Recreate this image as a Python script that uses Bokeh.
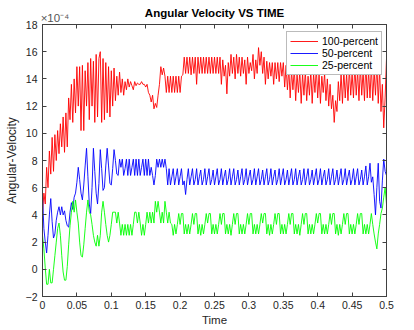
from bokeh.plotting import figure
from bokeh.models import LinearAxis, FixedTicker, Range1d, Legend, LegendItem
from bokeh.embed import file_html
from bokeh.resources import INLINE
import numpy as np

# ---- data (values in units of 1e-4), sampled every 0.002 s from t=0 to t=0.5 ----
red_100 = [
    4.1, 5.6, 4.8, 7.5, 6.0, 8.7, 7.0, 9.7, 7.2, 9.9,
    8.0, 10.2, 8.5, 10.7, 9.0, 11.2, 8.6, 11.5, 9.0, 12.6,
    11.0, 13.6, 10.8, 14.0, 11.5, 14.9, 12.0, 14.9, 10.2, 15.0,
    10.2, 14.6, 12.0, 15.2, 11.0, 15.5, 12.0, 15.3, 10.8, 15.8,
    11.2, 15.5, 16.0, 10.8, 15.5, 11.0, 15.2, 11.5, 14.9, 11.2,
    14.6, 12.0, 14.8, 12.4, 14.2, 12.8, 14.5, 13.0, 14.0, 12.8,
    13.8, 13.2, 14.0, 13.4, 13.8, 13.5, 13.2, 13.8, 13.5, 13.7,
    13.6, 13.6, 13.8, 13.6, 13.6, 13.4, 13.6, 13.0, 12.8, 12.3,
    12.8, 11.8, 12.2, 11.9, 12.8, 13.6, 14.9, 14.3, 14.8, 14.2,
    13.0, 14.2, 13.0, 14.2, 13.0, 14.2, 13.0, 14.2, 13.0, 14.2,
    13.0, 14.2, 14.3, 15.6, 14.4, 15.6, 14.4, 15.6, 14.3, 15.6,
    14.4, 15.6, 13.6, 15.6, 14.4, 15.6, 14.4, 15.6, 14.4, 15.6,
    14.4, 15.6, 14.4, 15.6, 14.4, 15.6, 14.4, 15.6, 14.4, 15.6,
    13.6, 15.4, 14.2, 15.0, 12.9, 15.2, 14.2, 15.8, 14.4, 15.6,
    14.0, 15.8, 14.4, 15.6, 14.2, 15.6, 14.4, 15.4, 13.6, 15.6,
    14.4, 15.2, 14.6, 15.8, 14.0, 15.4, 14.4, 16.3, 15.0, 16.0,
    14.4, 15.6, 13.6, 15.3, 14.0, 15.2, 14.2, 15.2, 13.6, 15.2,
    14.0, 15.2, 13.8, 15.2, 14.2, 15.2, 13.4, 15.0, 13.2, 14.8,
    12.6, 14.6, 13.2, 14.8, 12.4, 14.4, 13.0, 14.6, 12.2, 14.4,
    12.8, 14.6, 12.4, 14.2, 12.8, 14.6, 12.2, 14.4, 13.0, 14.8,
    12.6, 14.4, 12.2, 14.2, 13.0, 14.4, 12.4, 14.0, 12.0, 13.6,
    11.8, 12.8, 10.8, 12.4, 11.6, 13.8, 12.4, 14.4, 12.2, 14.6,
    12.6, 14.4, 12.4, 14.8, 12.8, 14.4, 12.6, 15.0, 12.8, 14.6,
    12.4, 15.0, 12.8, 14.6, 12.4, 15.2, 12.6, 14.6, 12.6, 15.0,
    12.4, 14.6, 12.8, 15.2, 12.2, 14.8, 11.6, 13.6, 10.4, 12.6,
    15.5,
]

blue_50 = [
    5.4, 3.0, 2.0, 1.2, 2.5, 4.0, 5.2, 3.5, 2.3, 2.6,
    3.6, 4.2, 4.6, 4.0, 4.6, 4.0, 4.3, 3.6, 3.2, 3.1,
    4.2, 4.9, 4.4, 5.3, 5.6, 6.4, 7.5, 6.6, 5.6, 5.1,
    6.2, 7.6, 8.9, 6.8, 4.8, 4.1, 6.0, 8.9, 7.2, 5.6,
    4.8, 6.3, 8.8, 7.4, 5.8, 6.0, 7.6, 8.9, 7.6, 6.3,
    6.2, 7.4, 8.8, 8.0, 7.0, 6.9, 8.1, 7.5, 8.1, 6.9,
    7.4, 8.1, 6.9, 8.1, 6.9, 7.5, 8.1, 6.9, 8.1, 6.9,
    8.1, 6.9, 7.5, 8.1, 6.9, 8.1, 6.9, 8.1, 6.9, 7.5,
    6.9, 6.2, 6.9, 8.1, 7.5, 8.1, 7.5, 8.1, 7.5, 8.1,
    7.4, 6.2, 7.4, 6.2, 6.8, 7.4, 6.2, 6.8, 7.4, 6.2,
    6.8, 7.4, 6.2, 6.5, 5.5, 6.6, 7.4, 6.2, 6.8, 7.4,
    6.2, 6.6, 7.4, 6.2, 6.8, 7.3, 6.2, 6.6, 7.4, 6.2,
    6.8, 7.4, 6.2, 6.6, 7.3, 6.2, 6.8, 7.4, 6.2, 6.6,
    7.4, 6.2, 6.8, 7.3, 6.2, 6.6, 7.4, 6.2, 6.8, 7.4,
    6.2, 6.6, 7.3, 6.2, 6.8, 7.4, 6.2, 6.6, 7.4, 6.2,
    6.8, 7.3, 6.2, 6.6, 7.4, 6.2, 6.8, 7.4, 6.2, 6.6,
    7.3, 6.2, 6.8, 7.4, 6.2, 6.6, 7.4, 6.2, 6.8, 7.3,
    6.2, 6.6, 7.4, 6.2, 6.8, 7.4, 6.2, 6.6, 7.3, 6.2,
    6.8, 7.4, 6.2, 6.6, 7.4, 6.2, 6.8, 7.3, 6.2, 6.6,
    7.4, 6.2, 6.8, 7.4, 6.2, 6.6, 7.3, 6.2, 6.8, 7.4,
    6.2, 6.6, 7.4, 6.2, 6.8, 7.3, 6.2, 6.6, 7.4, 6.2,
    6.8, 7.4, 6.2, 6.6, 7.3, 6.2, 6.8, 7.4, 6.2, 6.6,
    7.4, 6.2, 6.8, 7.3, 6.2, 6.6, 7.4, 6.2, 6.8, 7.4,
    6.2, 6.6, 7.3, 6.2, 6.8, 7.6, 6.2, 6.8, 7.8, 6.4,
    6.8, 5.5, 4.0, 6.0, 7.8, 5.0, 4.5, 6.5, 8.1, 7.2,
    6.9,
]

green_25 = [
    2.5, 1.5, 0.1, -1.1, -1.1, 0.0, -1.0, -1.0, 0.0, 1.0,
    2.0, 3.0, 3.4, 2.5, 1.0, -0.2, -0.8, -0.8, 0.2, 1.8,
    3.2, 4.2, 5.0, 4.2, 5.1, 4.2, 3.4, 2.0, 1.0, 0.9,
    1.8, 3.0, 4.2, 5.1, 4.2, 4.0, 3.3, 2.5, 2.0, 1.7,
    2.5, 1.7, 2.5, 4.2, 5.0, 4.2, 3.3, 2.5, 2.0, 2.5,
    3.3, 4.2, 4.2, 4.2, 3.4, 4.2, 3.4, 2.5, 3.3, 2.5,
    3.3, 2.5, 3.3, 2.5, 3.3, 2.5, 3.3, 4.2, 4.2, 3.4,
    4.2, 3.4, 2.5, 3.3, 2.5, 3.3, 4.2, 3.4, 4.2, 3.4,
    4.2, 3.4, 5.0, 4.2, 5.0, 4.2, 3.4, 4.2, 3.4, 5.0,
    4.2, 3.4, 4.2, 3.4, 3.3, 2.5, 3.3, 2.6, 3.3, 4.1,
    3.3, 4.1, 4.1, 2.6, 3.3, 2.6, 3.3, 2.6, 3.3, 4.1,
    3.3, 4.1, 4.1, 2.6, 3.3, 2.5, 3.3, 2.6, 3.3, 4.1,
    3.4, 4.1, 4.1, 2.6, 3.3, 2.6, 3.3, 2.6, 3.3, 4.1,
    3.3, 4.1, 4.1, 2.6, 3.3, 2.6, 3.3, 2.5, 3.3, 4.1,
    3.3, 4.1, 4.1, 2.6, 3.3, 2.6, 3.3, 2.6, 3.3, 4.1,
    3.3, 4.1, 4.1, 2.6, 3.3, 2.6, 3.3, 2.6, 3.3, 4.1,
    3.4, 4.1, 4.1, 2.6, 3.3, 2.5, 3.3, 2.6, 3.3, 4.1,
    3.3, 4.1, 4.1, 2.6, 3.3, 2.6, 3.3, 2.6, 3.3, 4.1,
    3.3, 4.1, 4.1, 2.6, 3.3, 2.6, 3.3, 2.5, 3.3, 4.1,
    3.3, 4.1, 4.1, 2.6, 3.3, 2.6, 3.3, 2.6, 3.3, 4.1,
    3.4, 4.1, 4.1, 2.6, 3.3, 2.6, 3.3, 2.6, 3.3, 4.1,
    3.3, 4.1, 4.1, 2.6, 3.3, 2.5, 3.3, 2.6, 3.3, 4.1,
    3.3, 4.1, 4.1, 2.6, 3.3, 2.6, 3.3, 2.6, 3.3, 4.1,
    3.3, 4.1, 4.1, 2.6, 3.3, 2.6, 3.3, 2.6, 3.3, 4.1,
    3.3, 2.6, 2.0, 1.5, 2.6, 3.3, 4.1, 4.5, 5.3, 6.0,
    4.8,
]

series_labels = ["100-percent", "50-percent", "25-percent"]
x_ticks = [0, 0.05, 0.1, 0.15, 0.2, 0.25, 0.3, 0.35, 0.4, 0.45, 0.5]
x_tick_labels = ["0", "0.05", "0.1", "0.15", "0.2", "0.25", "0.3", "0.35", "0.4", "0.45", "0.5"]
y_ticks = [-2, 0, 2, 4, 6, 8, 10, 12, 14, 16, 18]
title_text = "Angular Velocity VS TIME"
x_label = "Time"
y_label = "Angular-Velocity"
exponent_text = "\u00d710\u207b\u2074"
exponent_anchor_x = 0.018   # where the exponent marker sits along the top edge

FONT = "Liberation Sans"
AX = "#404040"
TXT = "#262626"

t_red = np.linspace(0, 0.5, len(red_100))
t_blue = np.linspace(0, 0.5, len(blue_50))
t_green = np.linspace(0, 0.5, len(green_25))

p = figure(width=414, height=330, output_backend="svg", toolbar_location=None,
           x_range=Range1d(0, 0.5), y_range=Range1d(-2, 18),
           min_border_left=42, min_border_right=28, min_border_top=24, min_border_bottom=34,
           background_fill_color="white", border_fill_color="white")
p.xgrid.visible = False
p.ygrid.visible = False
p.outline_line_color = AX

r1 = p.line(t_red, red_100, line_color="#ff0000", line_width=0.9)
r2 = p.line(t_blue, blue_50, line_color="#0000ff", line_width=0.9)
r3 = p.line(t_green, green_25, line_color="#00ff00", line_width=0.9)

# title (pulled down so it shares the row with the exponent marker)
p.title.text = title_text
p.title.align = "center"
p.title.text_font = FONT
p.title.text_font_size = "11.5px"
p.title.text_font_style = "bold"
p.title.text_color = "#000000"
p.title.standoff = -21

def style_axis(ax):
    ax.axis_line_color = AX
    ax.major_tick_line_color = AX
    ax.major_tick_in = 4
    ax.major_tick_out = 0
    ax.minor_tick_line_color = None
    ax.major_label_text_font = FONT
    ax.major_label_text_color = TXT
    ax.axis_label_text_font = FONT
    ax.axis_label_text_color = TXT
    ax.axis_label_text_font_style = "normal"

p.xaxis.ticker = FixedTicker(ticks=x_ticks)
p.yaxis.ticker = FixedTicker(ticks=y_ticks)
p.xaxis.major_label_overrides = {x_ticks[i]: x_tick_labels[i] for i in range(len(x_ticks))}
style_axis(p.xaxis[0])
style_axis(p.yaxis[0])
p.xaxis.major_label_text_font_size = "10.5px"
p.yaxis.major_label_text_font_size = "10.5px"
p.xaxis.major_label_standoff = 4
p.yaxis.major_label_standoff = 5
p.xaxis.axis_label = x_label
p.yaxis.axis_label = y_label
p.xaxis.axis_label_text_font_size = "11.5px"
p.yaxis.axis_label_text_font_size = "12px"
p.xaxis.axis_label_standoff = 2
p.yaxis.axis_label_standoff = 4

# top edge: tick marks only, plus the exponent marker as its single label
top_ax = LinearAxis(ticker=FixedTicker(ticks=[exponent_anchor_x], minor_ticks=x_ticks))
style_axis(top_ax)
top_ax.major_tick_in = 0
top_ax.major_tick_out = 0
top_ax.minor_tick_line_color = AX
top_ax.minor_tick_in = 4
top_ax.minor_tick_out = 0
top_ax.major_label_overrides = {exponent_anchor_x: exponent_text}
top_ax.major_label_text_font_size = "11.5px"
top_ax.major_label_text_color = "#555555"
top_ax.major_label_standoff = 1
p.add_layout(top_ax, "above")

# right edge: tick marks only
right_ax = LinearAxis(ticker=FixedTicker(ticks=[], minor_ticks=y_ticks))
style_axis(right_ax)
right_ax.minor_tick_line_color = AX
right_ax.minor_tick_in = 4
right_ax.minor_tick_out = 0
p.add_layout(right_ax, "right")

legend = Legend(items=[LegendItem(label=series_labels[0], renderers=[r1]),
                       LegendItem(label=series_labels[1], renderers=[r2]),
                       LegendItem(label=series_labels[2], renderers=[r3])],
                location=(244, 221))
legend.label_text_font = FONT
legend.label_text_font_size = "10.5px"
legend.label_text_color = "#000000"
legend.label_height = 12
legend.glyph_height = 12
legend.glyph_width = 28
legend.label_standoff = 4
legend.spacing = 0
legend.padding = 3
legend.margin = 0
legend.border_line_color = "#777777"
legend.border_line_width = 1
legend.background_fill_color = "white"
legend.background_fill_alpha = 1.0
p.add_layout(legend)

open("out.html", "w").write(file_html(p, INLINE))
